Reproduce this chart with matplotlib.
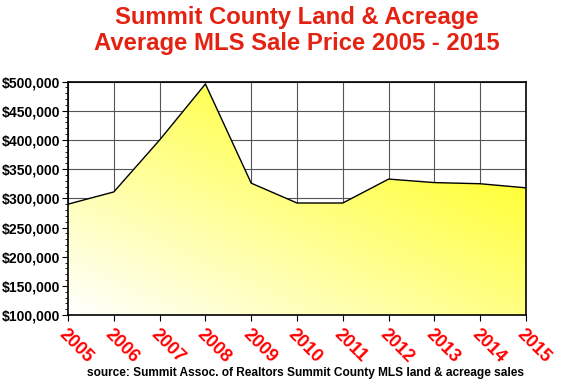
import matplotlib
matplotlib.use("Agg")
import matplotlib.pyplot as plt
import numpy as np
from matplotlib.ticker import MultipleLocator, FuncFormatter
from matplotlib.colors import LinearSegmentedColormap
from matplotlib.patches import PathPatch

years = [2005, 2006, 2007, 2008, 2009, 2010, 2011, 2012, 2013, 2014, 2015]
prices = [290000, 311000, 400000, 496000, 326000, 292000, 292000, 333000, 327000, 325000, 318000]
title = "Summit County Land & Acreage\nAverage MLS Sale Price 2005 - 2015"
source = "source: Summit Assoc. of Realtors Summit County MLS land & acreage sales"

plt.rcParams['font.family'] = ['Liberation Sans', 'DejaVu Sans']
fig = plt.figure(figsize=(5.63, 3.87), dpi=100)
ax = fig.add_axes([0.1208, 0.186, 0.8135, 0.603])
ymin, ymax = 100000, 500000
ax.set_xlim(years[0], years[-1])
ax.set_ylim(ymin, ymax)

# gradient fill
cmap = LinearSegmentedColormap.from_list("g", ["#ffffff", "#ffff30"])
gx, gy = np.meshgrid(np.linspace(0, 1, 200), np.linspace(0, 1, 200))
grad = np.clip(gx * 0.6 + gy * 0.65, 0, 1)
im = ax.imshow(grad, extent=[years[0], years[-1], ymin, ymax], origin='lower',
               cmap=cmap, aspect='auto', zorder=1, vmin=0, vmax=1)
poly = ax.fill_between(years, prices, ymin, facecolor='none', edgecolor='none')
patch = PathPatch(poly.get_paths()[0], transform=ax.transData, facecolor='none', edgecolor='none')
ax.add_patch(patch)
im.set_clip_path(patch)
ax.plot(years, prices, color='black', lw=1.0, zorder=3)

ax.set_xticks(years)
ax.yaxis.set_major_locator(MultipleLocator(50000))
ax.yaxis.set_minor_locator(MultipleLocator(10000))
ax.yaxis.set_major_formatter(FuncFormatter(lambda v, p: "${:,.0f}".format(v)))
ax.grid(True, which='major', color='#555555', lw=0.8, zorder=0)
ax.set_axisbelow(True)
for s in ax.spines.values():
    s.set_linewidth(1.2)
ax.tick_params(axis='y', which='major', length=4, labelsize=10.1, direction='out', pad=1.5)
ax.tick_params(axis='y', which='minor', length=2, direction='out')
ax.tick_params(axis='x', length=4, direction='out', labelsize=13, colors='black', labelcolor='red')
for lbl in ax.get_yticklabels():
    lbl.set_fontweight('bold')
for lbl in ax.get_xticklabels():
    lbl.set_fontweight('bold')
    lbl.set_rotation(-45)
    lbl.set_ha('left')
    lbl.set_va('top')
    lbl.set_rotation_mode('anchor')

fig.text(0.528, 0.985, title, ha='center', va='top', color='#e32212', fontsize=17.2,
         fontweight='bold', linespacing=1.15)
fig.text(0.542, 0.035, source, ha='center', va='center', fontsize=8.6, fontweight='bold')

fig.savefig("out.png", dpi=100)
